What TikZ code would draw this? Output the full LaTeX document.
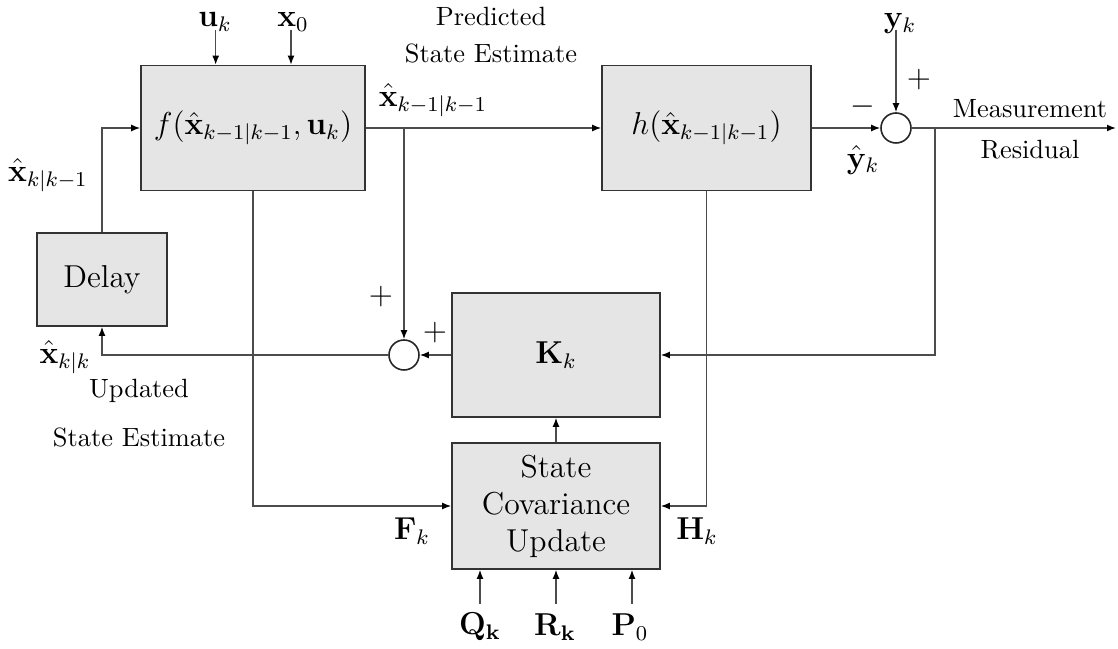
\documentclass[tikz,border=0pt]{standalone}
\usetikzlibrary{arrows.meta}
\begin{document}
\begin{tikzpicture}[x=0.3788pt,y=-0.3788pt,
  line/.style={draw=black!70,line width=0.5pt},
  arr/.style={line,-{Latex[length=3.4pt,width=2.6pt,color=black]}},
  blk/.style={draw=black!80,fill=black!10,line width=0.6pt,inner sep=0pt,font=\large,align=center},
  sumnode/.style={circle,draw=black!85,fill=white,line width=0.6pt,minimum size={30*0.3788pt},inner sep=0pt},
  lbl/.style={inner sep=0pt,font=\large},
  txt/.style={inner sep=0pt,font=\normalsize,align=center}]
\useasboundingbox (0,0) rectangle (1118,649);
% blocks
\node[blk,minimum width={224*0.3788pt},minimum height={125*0.3788pt}] (f) at (253,128)
  {$f\bigl(\hat{\mathbf{x}}_{k-1|k-1},\mathbf{u}_k\bigr)$};
\node[blk,minimum width={209*0.3788pt},minimum height={125*0.3788pt}] (h) at (706.5,128)
  {$h\bigl(\hat{\mathbf{x}}_{k-1|k-1}\bigr)$};
\node[blk,minimum width={130*0.3788pt},minimum height={93*0.3788pt}] (d) at (102,279.5) {Delay};
\node[blk,minimum width={208*0.3788pt},minimum height={124*0.3788pt}] (K) at (556,355) {$\mathbf{K}_k$};
\node[blk,minimum width={208*0.3788pt},minimum height={126*0.3788pt}] (S) at (556,506)
  {State\\Covariance\\Update};
\node[sumnode] (s1) at (896,128) {};
\node[sumnode] (s2) at (404,355) {};
% coordinates
\coordinate (ui) at (215.7,30);
\coordinate (xi) at (291,30);
\coordinate (yi) at (896,30);
\coordinate (out) at (1116,128);
\coordinate (j1) at (404,128);
\coordinate (j2) at (935,128);
\coordinate (qi) at (480,604);
\coordinate (ri) at (556,604);
\coordinate (pi) at (632,604);
% connectors
\draw[arr] (ui) -- (ui |- f.north);
\draw[arr] (xi) -- (xi |- f.north);
\draw[arr] (f.east) -- (h.west);
\draw[arr] (h.east) -- (s1.west);
\draw[arr] (yi) -- (s1.north);
\draw[arr] (s1.east) -- (out);
\draw[arr] (j2) |- (K.east);
\draw[arr] (j1) -- (s2.north);
\draw[arr] (K.west) -- (s2.east);
\draw[arr] (s2.west) -| (d.south);
\draw[arr] (d.north) |- (f.west);
\draw[arr] (f.south) |- (S.west);
\draw[arr] (h.south) |- (S.east);
\draw[arr] (S.north) -- (K.south);
\draw[arr] (qi) -- (qi |- S.south);
\draw[arr] (ri) -- (ri |- S.south);
\draw[arr] (pi) -- (pi |- S.south);
% labels
\node[lbl,anchor=base] (lu) at (215,27) {$\mathbf{u}_k$};
\node[lbl,anchor=base] (lx) at (293,27) {$\mathbf{x}_0$};
\node[lbl,anchor=base] (ly) at (900,28) {$\mathbf{y}_k$};
\node[txt] (pr1) at (491,16) {Predicted};
\node[txt] (pr2) at (491,53) {State Estimate};
\node[lbl] (lxp) at (433,100) {$\hat{\mathbf{x}}_{k-1|k-1}$};
\node[lbl] (lxk) at (48,175) {$\hat{\mathbf{x}}_{k|k-1}$};
\node[txt,font=\large] (pl1) at (919,80) {$+$};
\node[txt,font=\large] (mi1) at (863,107) {$-$};
\node[lbl] (lyh) at (863,160) {$\hat{\mathbf{y}}_k$};
\node[txt] (me1) at (1030,109) {Measurement};
\node[txt] (me2) at (1030,150) {Residual};
\node[txt,font=\large] (pl2) at (381,297) {$+$};
\node[txt,font=\large] (pl3) at (435,333) {$+$};
\node[lbl] (lkk) at (65,357) {$\hat{\mathbf{x}}_{k|k}$};
\node[txt] (up1) at (139,391) {Updated};
\node[txt] (up2) at (139,437) {State Estimate};
\node[lbl] (lF) at (412,531) {$\mathbf{F}_k$};
\node[lbl] (lH) at (697,531) {$\mathbf{H}_k$};
\node[lbl] (lQ) at (480,627) {$\mathbf{Q_k}$};
\node[lbl] (lR) at (555,627) {$\mathbf{R_k}$};
\node[lbl] (lP) at (630,627) {$\mathbf{P}_0$};
\end{tikzpicture}
\end{document}
